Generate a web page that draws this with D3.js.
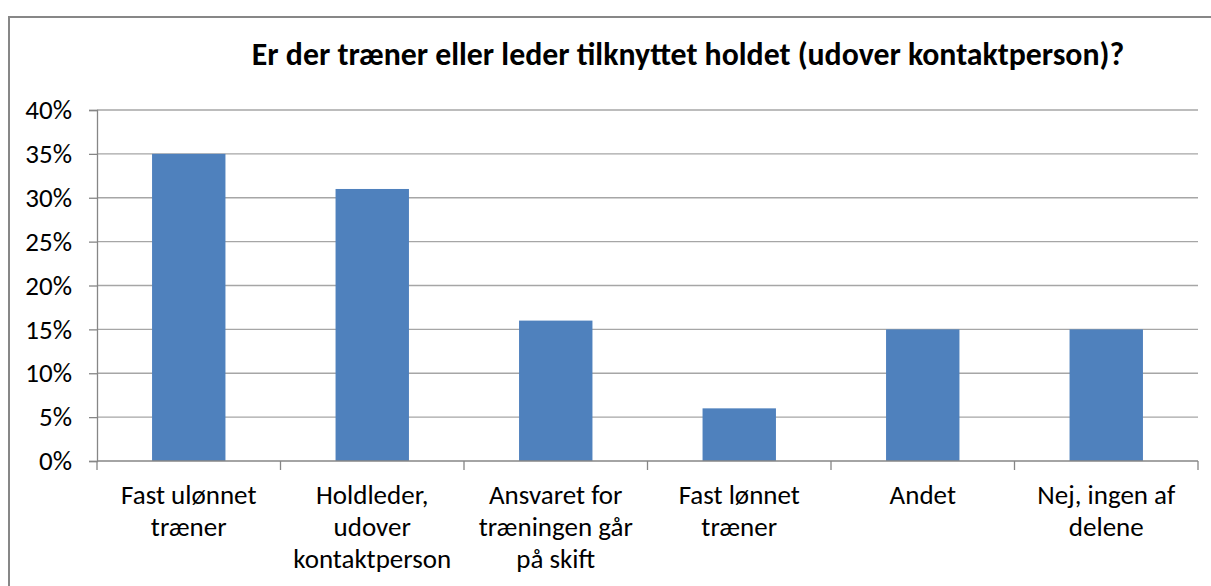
<!DOCTYPE html>
<html>
<head>
<meta charset="utf-8">
<script src="https://cdn.jsdelivr.net/npm/d3@7"></script>
<style>
  body { margin: 0; background: #fff; }
  svg text { font-family: Carlito, Lato, "Noto Sans", sans-serif; fill: #000; }
</style>
</head>
<body>
<svg id="chart" width="1211" height="586"></svg>
<script>
// chart values
const categories = ["Fast ulønnet træner", "Holdleder, udover kontaktperson", "Ansvaret for træningen går på skift", "Fast lønnet træner", "Andet", "Nej, ingen af delene"];
const labelLines = [
    ["Fast ulønnet", "træner"],
    ["Holdleder,", "udover", "kontaktperson"],
    ["Ansvaret for", "træningen går", "på skift"],
    ["Fast lønnet", "træner"],
    ["Andet"],
    ["Nej, ingen af", "delene"]
];
const values = [0.35, 0.31, 0.16, 0.06, 0.15, 0.15];
const yTicks = [0, 0.05, 0.10, 0.15, 0.20, 0.25, 0.30, 0.35, 0.40];
const title = "Er der træner eller leder tilknyttet holdet (udover kontaktperson)?";

const svg = d3.select("#chart");
const margin = { top: 110, right: 13, bottom: 125, left: 97 };
const width = +svg.attr("width");
const height = +svg.attr("height");
const plotW = width - margin.left - margin.right;
const plotH = height - margin.top - margin.bottom;

// outer frame
svg.append("rect")
    .attr("x", 9).attr("y", 17)
    .attr("width", 1230).attr("height", 600)
    .attr("fill", "none")
    .attr("stroke", "#878787")
    .attr("stroke-width", 2);

const titleText = svg.append("text")
    .attr("x", 688).attr("y", 65)
    .attr("text-anchor", "middle")
    .style("font-weight", "bold")
    .style("font-size", "24px")
    .text(title);
// fit title to the width it has in the original
const tw = titleText.node().getComputedTextLength();
titleText.style("font-size", (24 * 873 / tw).toFixed(1) + "px");

const g = svg.append("g")
    .attr("transform", "translate(" + margin.left + "," + margin.top + ")");

const x = d3.scaleBand()
    .domain(categories)
    .range([0, plotW])
    .paddingInner(0.6)
    .paddingOuter(0.3);

const y = d3.scaleLinear().domain([0, 0.4]).range([plotH, 0]);

// gridlines
g.selectAll(".grid")
    .data(yTicks.slice(1))
    .enter().append("line")
    .attr("x1", 0).attr("x2", plotW)
    .attr("y1", d => y(d)).attr("y2", d => y(d))
    .attr("stroke", "#a6a6a6")
    .attr("stroke-width", 1.3);

// y axis
const yAxis = g.append("g")
    .call(d3.axisLeft(y).tickValues(yTicks).tickFormat(d3.format(".0%")).tickSize(8).tickPadding(17));
yAxis.select(".domain").attr("stroke", "#868686").attr("stroke-width", 1.3);
yAxis.selectAll(".tick line").attr("stroke", "#868686").attr("stroke-width", 1.3);
yAxis.selectAll(".tick text").style("font-size", "27px").attr("fill", "#000")
    .style("font-family", "Carlito, Lato, sans-serif");

// bars
g.selectAll(".bar")
    .data(values)
    .enter().append("rect")
    .attr("x", (d, i) => x(categories[i]))
    .attr("y", d => y(d))
    .attr("width", x.bandwidth())
    .attr("height", d => plotH - y(d))
    .attr("fill", "#4f81bd");

// x axis line with boundary ticks
const step = x.step();
g.append("line")
    .attr("x1", 0).attr("x2", plotW)
    .attr("y1", plotH).attr("y2", plotH)
    .attr("stroke", "#868686").attr("stroke-width", 1.3);
g.selectAll(".xtick")
    .data(d3.range(categories.length + 1))
    .enter().append("line")
    .attr("x1", d => d * step).attr("x2", d => d * step)
    .attr("y1", plotH).attr("y2", plotH + 9)
    .attr("stroke", "#868686").attr("stroke-width", 1.3);

// category labels
const lab = g.selectAll(".xlab")
    .data(categories)
    .enter().append("text")
    .attr("text-anchor", "middle")
    .style("font-size", "27px")
    .attr("transform", d => "translate(" + (x(d) + x.bandwidth() / 2) + "," + (plotH + 43) + ")");
lab.selectAll("tspan")
    .data((d, i) => labelLines[i])
    .enter().append("tspan")
    .attr("x", 0)
    .attr("dy", (d, i) => i === 0 ? 0 : 32)
    .text(d => d);
</script>
</body>
</html>
